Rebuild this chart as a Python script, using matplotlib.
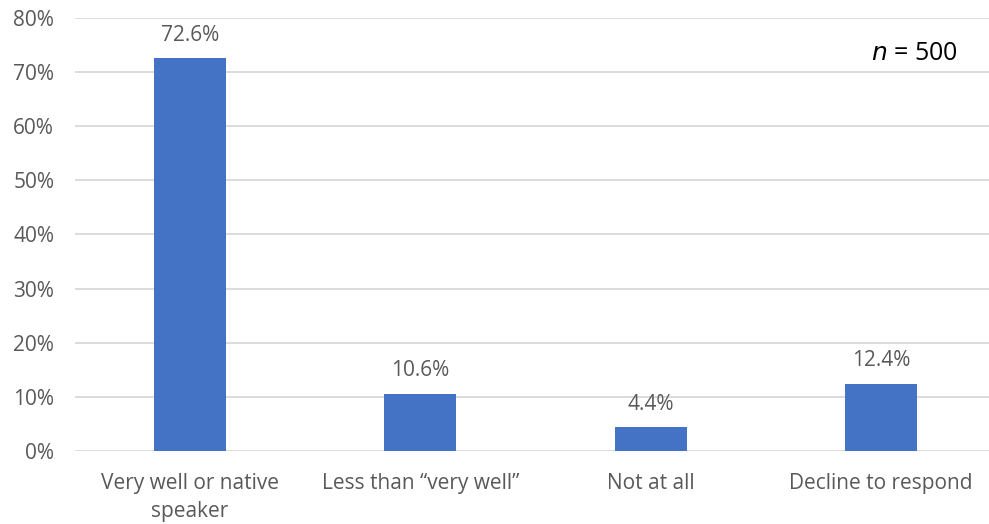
import matplotlib.pyplot as plt

# Data
categories = ['Very well or native\nspeaker', 'Less than \u201cvery well\u201d', 'Not at all', 'Decline to respond']
values = [72.6, 10.6, 4.4, 12.4]
yticks = [0, 10, 20, 30, 40, 50, 60, 70, 80]

plt.rcParams['font.family'] = ['Open Sans', 'DejaVu Sans']
grey = '#595959'

fig = plt.figure(figsize=(9.89, 5.24), dpi=100)
ax = fig.add_axes([75 / 989, 1 - 451 / 524, 921 / 989, 433 / 524])

x = range(len(categories))
bars = ax.bar(x, values, width=0.313, color='#4472c4', zorder=3)

for xi, v in zip(x, values):
    ax.annotate(f'{v:.1f}%', (xi, v), xytext=(0, 9), textcoords='offset points',
                ha='center', va='bottom', fontsize=15, color=grey)

ax.set_xlim(-0.5, len(categories) - 0.5)
ax.set_ylim(0, 80)
ax.set_yticks(yticks)
ax.set_yticklabels([f'{t}%' for t in yticks])
ax.set_xticks(list(x))
ax.set_xticklabels(categories, linespacing=1.45)
ax.tick_params(axis='both', length=0, labelsize=15, labelcolor=grey)
ax.tick_params(axis='y', pad=15)
ax.tick_params(axis='x', pad=16)
ax.yaxis.grid(True, color='#d9d9d9', linewidth=1.3, zorder=0)
for s in ax.spines.values():
    s.set_visible(False)

fig.text(958 / 989, 1 - 53 / 524, r'$\it{n}$ = 500', ha='right', va='center',
         fontsize=18, color='black')

fig.savefig('out.png', dpi=100)
